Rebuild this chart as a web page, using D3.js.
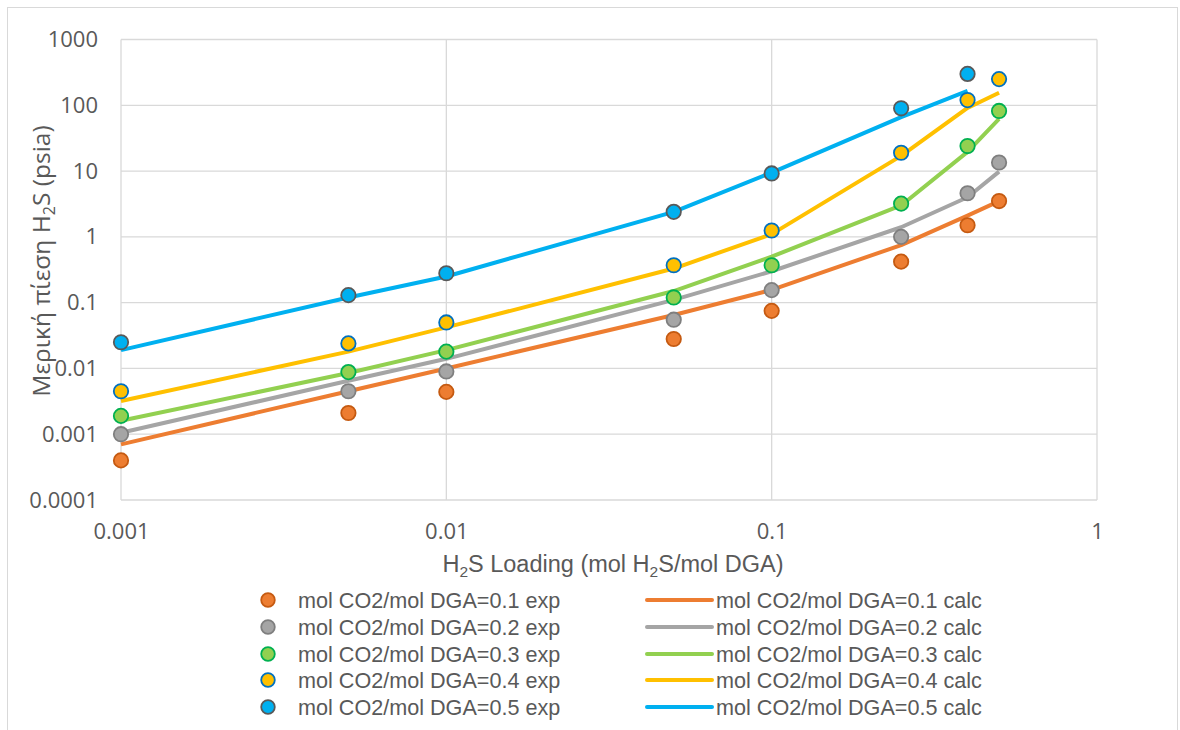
<!DOCTYPE html>
<html>
<head>
<meta charset="utf-8">
<script src="https://cdn.jsdelivr.net/npm/d3@7"></script>
<style>
  body { margin: 0; background: #fff; }
  svg text { fill: #595959; }
</style>
</head>
<body>
<svg id="chart" width="1180" height="730"></svg>
<script>
// H2S loading (x) values
const loadings = [0.001, 0.005, 0.01, 0.05, 0.1, 0.25, 0.4, 0.5];
const seriesNames = ["0.1", "0.2", "0.3", "0.4", "0.5"];

// experimental points, one array per CO2 loading
const exp01 = [0.0004, 0.0021, 0.0044, 0.028, 0.075, 0.42, 1.5, 3.5];
const exp02 = [0.001, 0.0045, 0.009, 0.055, 0.155, 1.0, 4.6, 13.5];
const exp03 = [0.0019, 0.0088, 0.018, 0.12, 0.37, 3.2, 24, 82];
const exp04 = [0.0045, 0.024, 0.05, 0.37, 1.25, 19, 120, 250];
const exp05 = [0.025, 0.13, 0.28, 2.4, 9.2, 90, 300, null];

// calculated curves
const calc01 = [0.0007, 0.0045, 0.01, 0.065, 0.156, 0.75, 2.1, 3.5];
const calc02 = [0.00105, 0.0065, 0.014, 0.11, 0.3, 1.4, 4.0, 9.8];
const calc03 = [0.0016, 0.0085, 0.019, 0.15, 0.5, 3.0, 19.6, 62];
const calc04 = [0.0032, 0.018, 0.042, 0.33, 1.1, 17, 91, 155];
const calc05 = [0.019, 0.12, 0.25, 2.4, 9.5, 66, 165, null];

const xTicks = [0.001, 0.01, 0.1, 1];
const yTicks = [0.0001, 0.001, 0.01, 0.1, 1, 10, 100, 1000];

const fills   = ["#ED7D31", "#A5A5A5", "#92D050", "#FFC000", "#00B0F0"];
const strokes = ["#C55A11", "#7F7F7F", "#00B050", "#0070C0", "#595959"];
const lineCols = ["#ED7D31", "#A5A5A5", "#92D050", "#FFC000", "#00B0F0"];

const expAll = [exp01, exp02, exp03, exp04, exp05];
const calcAll = [calc01, calc02, calc03, calc04, calc05];

const svg = d3.select("#chart");
const W = 1180, H = 730;

// outer frame
svg.append("rect")
  .attr("x", 7.5).attr("y", 7.5)
  .attr("width", W - 10).attr("height", H - 6)
  .attr("fill", "none").attr("stroke", "#d9d9d9");

const x = d3.scaleLog().domain([0.001, 1]).range([121, 1097]);
const y = d3.scaleLog().domain([0.0001, 1000]).range([500, 39.5]);

// gridlines
const g = svg.append("g");
g.selectAll(".hg").data(yTicks).join("line")
  .attr("x1", x(0.001)).attr("x2", x(1))
  .attr("y1", d => y(d)).attr("y2", d => y(d))
  .attr("stroke", "#d9d9d9").attr("stroke-width", 1.3);
g.selectAll(".vg").data(xTicks).join("line")
  .attr("y1", y(0.0001)).attr("y2", y(1000))
  .attr("x1", d => x(d)).attr("x2", d => x(d))
  .attr("stroke", "#d9d9d9").attr("stroke-width", 1.3);

// axes (labels only)
const fmt = d => String(+d.toPrecision(1));
const yAxis = svg.append("g")
  .attr("transform", `translate(${x(0.001)},0)`)
  .call(d3.axisLeft(y).tickValues(yTicks).tickFormat(fmt).tickSize(0).tickPadding(23));
const xAxis = svg.append("g")
  .attr("transform", `translate(0,${y(0.0001)})`)
  .call(d3.axisBottom(x).tickValues(xTicks).tickFormat(fmt).tickSize(0).tickPadding(23));
[xAxis, yAxis].forEach(a => {
  a.select(".domain").remove();
  a.attr("font-size", 22).attr("font-family", "'Open Sans', sans-serif");
  a.selectAll("text").attr("font-family", "'Open Sans', sans-serif").attr("font-size", 22).attr("fill", "#595959");
});

// calc lines
const line = d3.line()
  .defined(d => d[1] != null)
  .x(d => x(d[0])).y(d => y(d[1]));
calcAll.forEach((vals, i) => {
  svg.append("path")
    .datum(loadings.map((l, j) => [l, vals[j]]))
    .attr("fill", "none")
    .attr("stroke", lineCols[i])
    .attr("stroke-width", 4)
    .attr("stroke-linejoin", "round")
    .attr("d", line);
});

// exp markers
expAll.forEach((vals, i) => {
  svg.append("g").selectAll("circle")
    .data(loadings.map((l, j) => [l, vals[j]]).filter(d => d[1] != null))
    .join("circle")
    .attr("cx", d => x(d[0])).attr("cy", d => y(d[1]))
    .attr("r", 7.2)
    .attr("fill", fills[i])
    .attr("stroke", strokes[i])
    .attr("stroke-width", 1.8);
});

// axis titles
const titleFont = "'Liberation Sans', Arial, sans-serif";
const xt = svg.append("text")
  .attr("x", 613).attr("y", 572)
  .attr("text-anchor", "middle")
  .attr("font-family", titleFont).attr("font-size", 23.5);
xt.append("tspan").text("H");
xt.append("tspan").text("2").attr("font-size", 15.5).attr("dy", 5);
xt.append("tspan").text("S Loading (mol H").attr("dy", -5);
xt.append("tspan").text("2").attr("font-size", 15.5).attr("dy", 5);
xt.append("tspan").text("S/mol DGA)").attr("dy", -5);

const yt = svg.append("text")
  .attr("transform", "translate(50,261) rotate(-90)")
  .attr("text-anchor", "middle")
  .attr("font-family", "'Open Sans', sans-serif").attr("font-size", 24.5);
yt.append("tspan").text("Μερική πίεση H");
yt.append("tspan").text("2").attr("font-size", 16).attr("dy", 5);
yt.append("tspan").text("S (psia)").attr("dy", -5);

// legend
const rowY = [600, 627, 654, 680, 707];
const leg = svg.append("g").attr("font-family", titleFont).attr("font-size", 21.6);
seriesNames.forEach((s, i) => {
  leg.append("circle")
    .attr("cx", 268).attr("cy", rowY[i]).attr("r", 6.8)
    .attr("fill", fills[i]).attr("stroke", strokes[i]).attr("stroke-width", 1.8);
  leg.append("text").attr("x", 298).attr("y", rowY[i]).attr("dy", "0.35em")
    .text(`mol CO2/mol DGA=${s} exp`);
  leg.append("line")
    .attr("x1", 647).attr("x2", 712).attr("y1", rowY[i]).attr("y2", rowY[i])
    .attr("stroke", lineCols[i]).attr("stroke-width", 4).attr("stroke-linecap", "round");
  leg.append("text").attr("x", 716).attr("y", rowY[i]).attr("dy", "0.35em")
    .text(`mol CO2/mol DGA=${s} calc`);
});
</script>
</body>
</html>
